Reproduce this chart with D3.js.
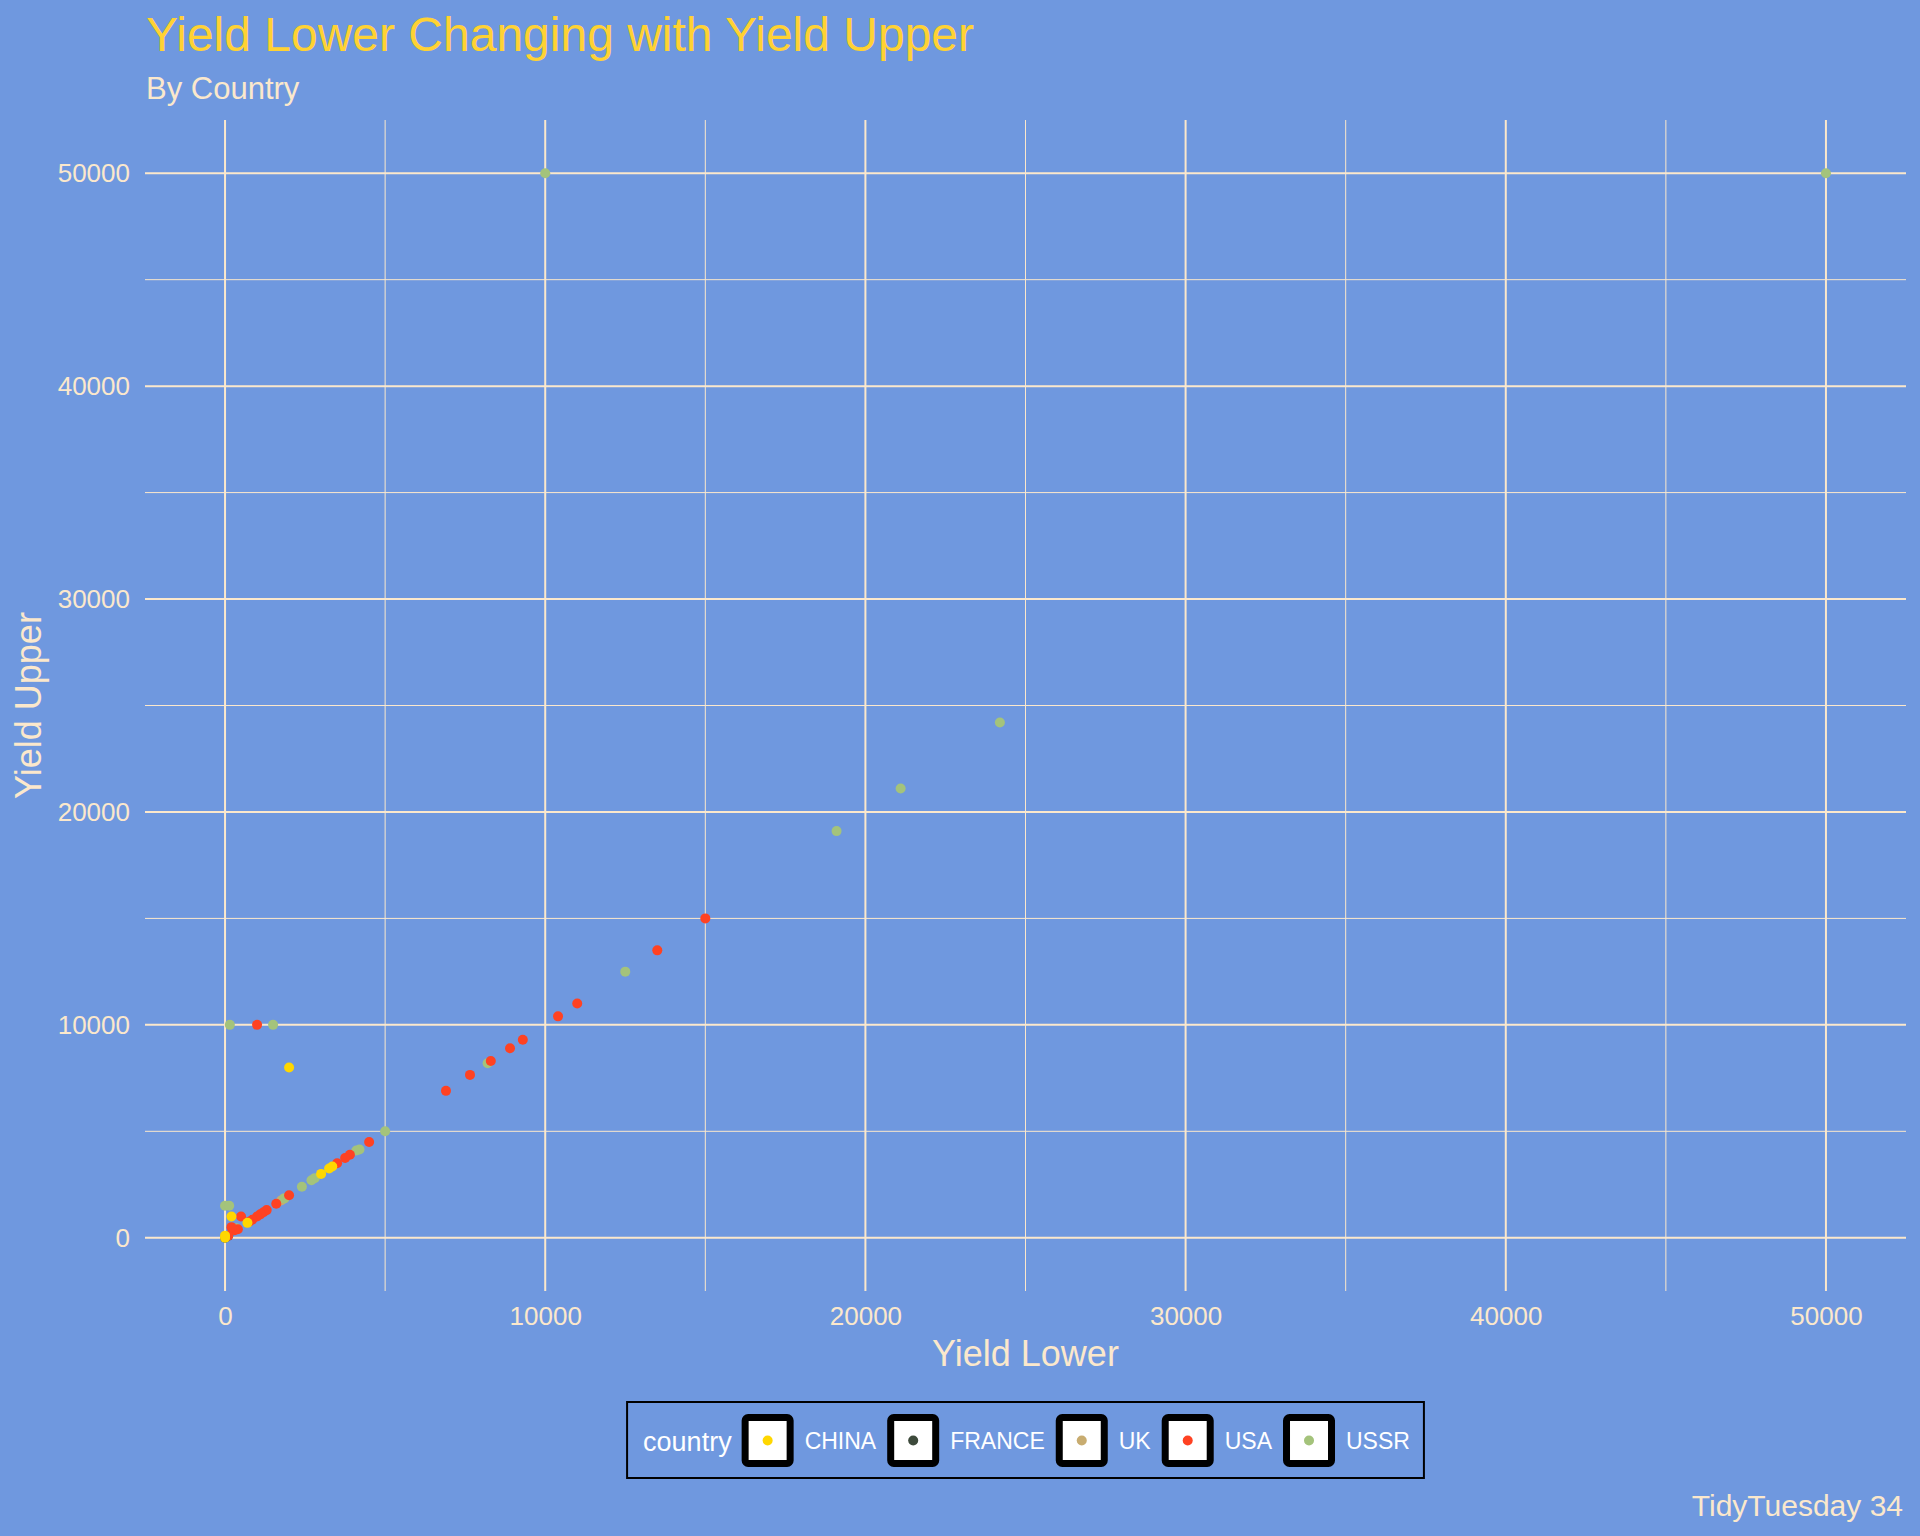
<!DOCTYPE html>
<html>
<head>
<meta charset="utf-8">
<script src="https://cdn.jsdelivr.net/npm/d3@7"></script>
<style>
  body { margin: 0; background: #6f98df; }
  svg { display: block; }
  text { font-family: "Liberation Sans", Arial, sans-serif; }
</style>
</head>
<body>
<svg id="chart"></svg>
<script>
const width = 1920;
const height = 1536;
const margin = { top: 120, right: 14, bottom: 245, left: 145 };

const bg = "#6f98df";
const ink = "#fbe8cc";

// countries and their colours (legend order)
const countries = ["CHINA", "FRANCE", "UK", "USA", "USSR"];
const countryColors = ["#ffd700", "#3d4a3b", "#c8ac70", "#ff4222", "#a4c37b"];

// yield_lower / yield_upper, per country
const chinaLower = [0, 0, 200, 700, 3000, 3250, 3350, 2000];
const chinaUpper = [0, 100, 1000, 700, 3000, 3250, 3350, 8000];

const franceLower = [0, 100];
const franceUpper = [0, 100];

const ukLower = [1750, 1850];
const ukUpper = [1750, 1850];

const usaLower = [15000, 13500, 11000, 10400, 9300, 8900, 8300, 7650, 6900, 1000,
  4500, 3900, 3750, 3500, 2000, 1600, 1300, 1200, 1100, 1000, 850, 750, 500, 400,
  300, 200, 100];
const usaUpper = [15000, 13500, 11000, 10400, 9300, 8900, 8300, 7650, 6900, 10000,
  4500, 3900, 3750, 3500, 2000, 1600, 1300, 1200, 1100, 1000, 850, 750, 1000, 400,
  350, 500, 100];

const ussrLower = [10000, 50000, 24200, 21100, 19100, 12500, 8200, 5000, 4200, 4100,
  2800, 2700, 2400, 1850, 150, 1500, 0, 130, 350];
const ussrUpper = [50000, 50000, 24200, 21100, 19100, 12500, 8200, 5000, 4150, 4100,
  2800, 2700, 2400, 1850, 10000, 10000, 1500, 1500, 450];

const majorTicks = [0, 10000, 20000, 30000, 40000, 50000];
const minorTicks = [5000, 15000, 25000, 35000, 45000];

const lowers = [chinaLower, franceLower, ukLower, usaLower, ussrLower];
const uppers = [chinaUpper, franceUpper, ukUpper, usaUpper, ussrUpper];

let points = [];
countries.forEach((c, i) => {
  lowers[i].forEach((v, j) => {
    points.push({ country: c, lower: v, upper: uppers[i][j] });
  });
});
// draw order so the visible overlaps come out like the original
const drawOrder = ["FRANCE", "UK", "USSR", "USA", "CHINA"];
points.sort((a, b) => drawOrder.indexOf(a.country) - drawOrder.indexOf(b.country));

const color = d3.scaleOrdinal().domain(countries).range(countryColors);

const x = d3.scaleLinear()
  .domain([-2500, 52500])
  .range([margin.left, width - margin.right]);
const y = d3.scaleLinear()
  .domain([-2500, 52500])
  .range([height - margin.bottom, margin.top]);

const svg = d3.select("#chart").attr("width", width).attr("height", height);
svg.append("rect").attr("width", width).attr("height", height).attr("fill", bg);

// grid
const grid = svg.append("g");
grid.selectAll(".vminor").data(minorTicks).join("line")
  .attr("x1", d => x(d)).attr("x2", d => x(d))
  .attr("y1", margin.top).attr("y2", height - margin.bottom)
  .attr("stroke", ink).attr("stroke-width", 1);
grid.selectAll(".hminor").data(minorTicks).join("line")
  .attr("y1", d => y(d)).attr("y2", d => y(d))
  .attr("x1", margin.left).attr("x2", width - margin.right)
  .attr("stroke", ink).attr("stroke-width", 1);
grid.selectAll(".vmajor").data(majorTicks).join("line")
  .attr("x1", d => x(d)).attr("x2", d => x(d))
  .attr("y1", margin.top).attr("y2", height - margin.bottom)
  .attr("stroke", ink).attr("stroke-width", 2);
grid.selectAll(".hmajor").data(majorTicks).join("line")
  .attr("y1", d => y(d)).attr("y2", d => y(d))
  .attr("x1", margin.left).attr("x2", width - margin.right)
  .attr("stroke", ink).attr("stroke-width", 2);

// axes (labels only)
const xAxis = svg.append("g")
  .attr("transform", `translate(0, ${height - margin.bottom})`)
  .call(d3.axisBottom(x).tickValues(majorTicks).tickSize(0).tickPadding(16).tickFormat(d => d));
const yAxis = svg.append("g")
  .attr("transform", `translate(${margin.left}, 0)`)
  .call(d3.axisLeft(y).tickValues(majorTicks).tickSize(0).tickPadding(15).tickFormat(d => d));
[xAxis, yAxis].forEach(a => {
  a.select(".domain").remove();
  a.selectAll("text").attr("fill", ink).style("font-size", "26px")
    .style("font-family", '"Liberation Sans", Arial, sans-serif');
});

// points
svg.append("g").selectAll("circle").data(points).join("circle")
  .attr("cx", d => x(d.lower))
  .attr("cy", d => y(d.upper))
  .attr("r", 5)
  .attr("fill", d => color(d.country));

// titles
svg.append("text").attr("x", 146).attr("y", 51)
  .attr("fill", "#ffd233").style("font-size", "48px")
  .text("Yield Lower Changing with Yield Upper");
svg.append("text").attr("x", 146).attr("y", 99)
  .attr("fill", ink).style("font-size", "31px")
  .text("By Country");
svg.append("text").attr("x", (margin.left + width - margin.right) / 2).attr("y", 1366)
  .attr("text-anchor", "middle").attr("fill", ink).style("font-size", "36px")
  .text("Yield Lower");
svg.append("text")
  .attr("transform", `translate(41, ${(margin.top + height - margin.bottom) / 2}) rotate(-90)`)
  .attr("text-anchor", "middle").attr("fill", ink).style("font-size", "36px")
  .text("Yield Upper");
svg.append("text").attr("x", 1903).attr("y", 1516)
  .attr("text-anchor", "end").attr("fill", ink).style("font-size", "30px")
  .text("TidyTuesday 34");

// legend
const legend = svg.append("g");
const legTop = 1402, legH = 76, keyW = 52, keyY = 1414;
let cx = 16;
const legTitle = legend.append("text").attr("x", cx).attr("y", 1451)
  .attr("fill", "#ffffff").style("font-size", "27px").text("country");
cx += legTitle.node().getComputedTextLength() + 10;
countries.forEach((c, i) => {
  legend.append("rect")
    .attr("x", cx + 3.5).attr("y", keyY + 3.5)
    .attr("width", keyW - 7).attr("height", keyW - 6)
    .attr("rx", 3)
    .attr("fill", "#ffffff").attr("stroke", "#000000").attr("stroke-width", 7);
  legend.append("circle")
    .attr("cx", cx + keyW / 2).attr("cy", keyY + 26.5).attr("r", 5)
    .attr("fill", color(c));
  cx += keyW + 11;
  const t = legend.append("text").attr("x", cx).attr("y", 1449)
    .attr("fill", "#ffffff").style("font-size", "23px").text(c);
  cx += t.node().getComputedTextLength() + (i < countries.length - 1 ? 11 : 14);
});
const legW = cx;
legend.insert("rect", ":first-child")
  .attr("x", 0).attr("y", legTop).attr("width", legW).attr("height", legH)
  .attr("fill", "none").attr("stroke", "#000000").attr("stroke-width", 2);
legend.attr("transform", `translate(${(margin.left + width - margin.right) / 2 - legW / 2}, 0)`);
</script>
</body>
</html>
